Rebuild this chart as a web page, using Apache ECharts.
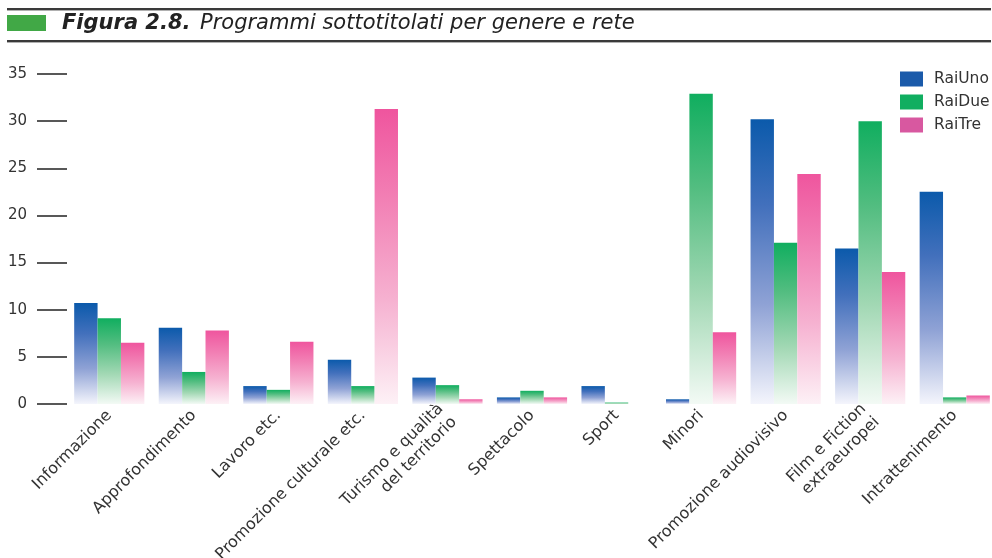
<!DOCTYPE html>
<html>
<head>
<meta charset="utf-8">
<script src="https://cdn.jsdelivr.net/npm/echarts@6/dist/echarts.min.js"></script>
<style>
  html, body { margin: 0; padding: 0; background: #ffffff; }
  #chart { width: 992px; height: 558px; }
</style>
</head>
<body>
<div id="chart"></div>
<script>
// Genres (x axis categories)
const categories = [
  'Informazione',
  'Approfondimento',
  'Lavoro etc.',
  'Promozione culturale etc.',
  'Turismo e qualità\ndel territorio',
  'Spettacolo',
  'Sport',
  'Minori',
  'Promozione audiovisivo',
  'Film e Fiction\nextraeuropei',
  'Intrattenimento'
];

// Subtitled programmes by network
const raiUno = [10.7, 8.1, 1.9, 4.7, 2.8, 0.7, 1.9, 0.5, 30.2, 16.5, 22.5];
const raiDue = [9.1, 3.4, 1.5, 1.9, 2.0, 1.4, 0.15, 32.9, 17.1, 30.0, 0.7];
const raiTre = [6.5, 7.8, 6.6, 31.3, 0.5, 0.7, 0, 7.6, 24.4, 14.0, 0.9];

// Y axis scale
const yMin = 0;
const yMax = 35;
const yStep = 5;

const chart = echarts.init(document.getElementById('chart'), null, { renderer: 'canvas' });

function fade(stops) {
  return new echarts.graphic.LinearGradient(0, 0, 0, 1,
    stops.map(([offset, color]) => ({ offset, color })));
}

const blueFill = fade([[0, '#0b5aab'], [0.3, '#4270bc'], [0.65, '#8fa2d5'], [1, '#f4f5fc']]);
const greenFill = fade([[0, '#10ae5f'], [0.3, '#52bd80'], [0.65, '#a2d8b4'], [1, '#f3faf5']]);
const pinkFill = fade([[0, '#ef559e'], [0.3, '#f27fb4'], [0.65, '#f6b2d1'], [1, '#fdf1f6']]);

const labelFont = '"DejaVu Sans", Verdana, sans-serif';

chart.setOption({
  animation: false,
  backgroundColor: '#ffffff',
  graphic: [
    { type: 'rect', shape: { x: 7, y: 8, width: 984, height: 2 }, style: { fill: '#3a3a3a' } },
    { type: 'rect', shape: { x: 7, y: 10, width: 984, height: 1 }, style: { fill: '#b0b0b0' } },
    { type: 'rect', shape: { x: 7, y: 15, width: 39, height: 16 }, style: { fill: '#41a846' } },
    {
      type: 'text', left: 62, top: 13,
      style: {
        text: 'Figura 2.8.',
        font: 'italic bold 21px "DejaVu Sans", sans-serif',
        fill: '#222222'
      }
    },
    {
      type: 'text', left: 200, top: 13,
      style: {
        text: 'Programmi sottotitolati per genere e rete',
        font: 'italic 21px "DejaVu Sans", sans-serif',
        fill: '#222222'
      }
    },
    { type: 'rect', shape: { x: 7, y: 40, width: 984, height: 2 }, style: { fill: '#3a3a3a' } },
    { type: 'rect', shape: { x: 7, y: 42, width: 984, height: 1 }, style: { fill: '#b0b0b0' } }
  ],
  legend: {
    orient: 'vertical',
    left: 900,
    top: 71,
    padding: 0,
    itemWidth: 23,
    itemHeight: 15,
    itemGap: 7,
    icon: 'rect',
    textStyle: { fontFamily: labelFont, fontSize: 15.5, color: '#333333', padding: [0, 0, 0, 6] },
    data: [
      { name: 'RaiUno', itemStyle: { color: '#1a5aaa' } },
      { name: 'RaiDue', itemStyle: { color: '#10ae60' } },
      { name: 'RaiTre', itemStyle: { color: '#d858a0' } }
    ]
  },
  grid: {
    left: 67,
    right: -5,
    top: 74,
    bottom: 154,
    containLabel: false,
    outerBoundsMode: 'none'
  },
  xAxis: {
    type: 'category',
    data: categories,
    axisLine: { show: false },
    axisTick: { show: false },
    axisLabel: {
      interval: 0,
      rotate: 45,
      margin: 9,
      fontFamily: labelFont,
      fontSize: 16,
      color: '#333333',
      lineHeight: 19
    }
  },
  yAxis: {
    type: 'value',
    min: yMin,
    max: yMax,
    interval: yStep,
    splitLine: { show: false },
    axisLine: { show: false },
    axisTick: { show: true, inside: false, length: 30, lineStyle: { color: '#222222', width: 1.5 } },
    axisLabel: {
      margin: 40,
      fontFamily: labelFont,
      fontSize: 15,
      color: '#333333'
    }
  },
  series: [
    { name: 'RaiUno', type: 'bar', data: raiUno, barGap: '0%', barCategoryGap: '17%', itemStyle: { color: blueFill } },
    { name: 'RaiDue', type: 'bar', data: raiDue, barGap: '0%', barCategoryGap: '17%', itemStyle: { color: greenFill } },
    { name: 'RaiTre', type: 'bar', data: raiTre, barGap: '0%', barCategoryGap: '17%', itemStyle: { color: pinkFill } }
  ]
});
</script>
</body>
</html>
